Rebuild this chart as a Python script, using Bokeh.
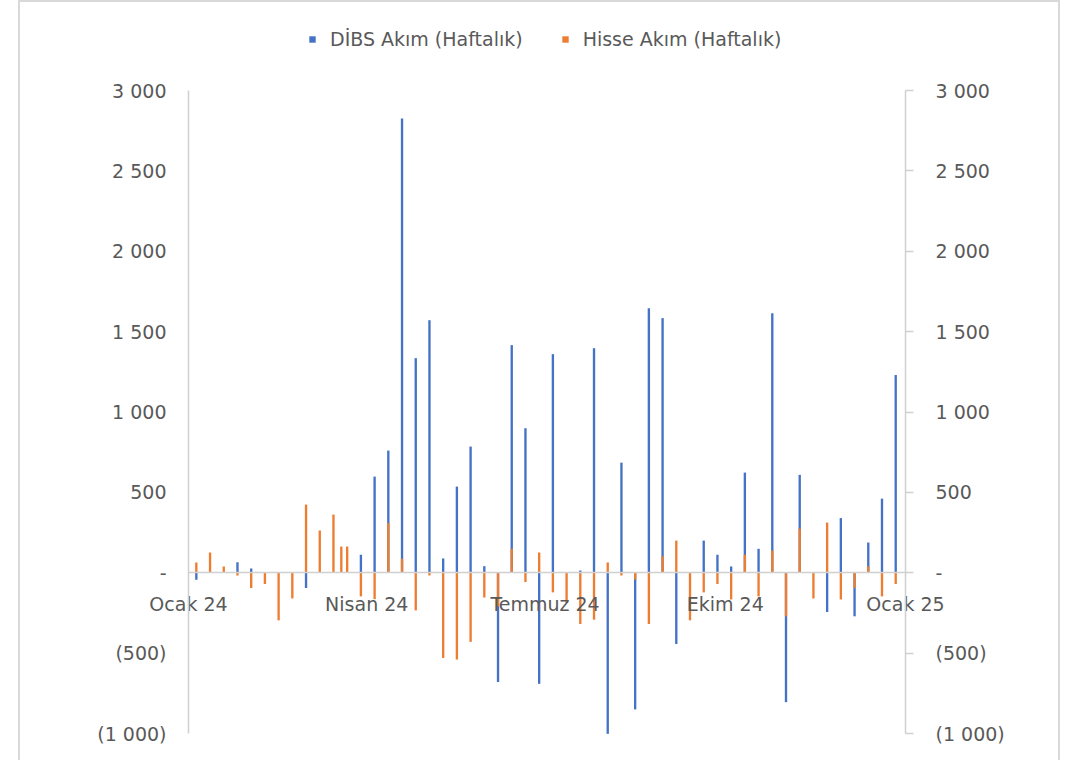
import pandas as pd
from bokeh.plotting import figure
from bokeh.models import (ColumnDataSource, LinearAxis, DatetimeAxis, FixedTicker,
                          CustomJSTickFormatter, Legend, LegendItem, Range1d)
from bokeh.embed import file_html
from bokeh.resources import INLINE

# ---- data (weekly flows) ----
dates = ["2024-01-05", "2024-01-12", "2024-01-19", "2024-01-26", "2024-02-02", "2024-02-09",
         "2024-02-16", "2024-02-23", "2024-03-01", "2024-03-08", "2024-03-15", "2024-03-19",
         "2024-03-22", "2024-03-29", "2024-04-05", "2024-04-12", "2024-04-19", "2024-04-26",
         "2024-05-03", "2024-05-10", "2024-05-17", "2024-05-24", "2024-05-31", "2024-06-07",
         "2024-06-14", "2024-06-21", "2024-06-28", "2024-07-05", "2024-07-12", "2024-07-19",
         "2024-07-26", "2024-08-02", "2024-08-09", "2024-08-16", "2024-08-23", "2024-08-30",
         "2024-09-06", "2024-09-13", "2024-09-20", "2024-09-27", "2024-10-04", "2024-10-11",
         "2024-10-18", "2024-10-25", "2024-11-01", "2024-11-08", "2024-11-15", "2024-11-22",
         "2024-11-29", "2024-12-06", "2024-12-13", "2024-12-20", "2024-12-27"]
dibs = [-43, 0, 0, 66, 27, 0,
        0, 0, -95, 0, 0, 0,
        0, 112, 598, 760, 2826, 1335,
        1571, 89, 536, 785, 41, -680,
        1416, 899, -691, 1360, 0, 14,
        1397, -1002, 685, -850, 1646, 1584,
        -443, 0, 200, 112, 39, 623,
        149, 1615, -805, 609, 0, -244,
        340, -271, 188, 461, 1230]
hisse = [64, 126, 39, -17, -95, -70,
         -296, -160, 424, 263, 362, 163,
         163, -147, -164, 309, 87, -234,
         -17, -530, -540, -430, -154, -209,
         149, -58, 126, -122, -188, -319,
         -292, 64, -17, -42, -319, 102,
         200, -296, -122, -70, -166, 112,
         -147, 138, -271, 275, -160, 312,
         -166, -95, 39, -147, -70]
series_names = ["DİBS Akım (Haftalık)", "Hisse Akım (Haftalık)"]
x_tick_dates = ["2024-01-01", "2024-04-01", "2024-07-01", "2024-10-01", "2025-01-01"]
month_names = ["Ocak", "Şubat", "Mart", "Nisan", "Mayıs", "Haziran", "Temmuz",
               "Ağustos", "Eylül", "Ekim", "Kasım", "Aralık"]
y_ticks = [-1000, -500, 0, 500, 1000, 1500, 2000, 2500, 3000]

# ---- styling / layout constants ----
BLUE = "#4472C4"
ORANGE = "#ED7D31"
TEXT = "#595959"
AXIS = "#d0d0d0"
FONT = "DejaVu Sans"
FS = "19px"

W, H = 1038, 758            # figure size (frame covers whole canvas)
PLOT_L, PLOT_R = 168, 885   # plot-area left/right in canvas px
PLOT_T, PLOT_B = 88, 731    # plot-area top/bottom in canvas px

df = pd.DataFrame({"date": pd.to_datetime(dates), "dibs": dibs, "hisse": hisse})
src = ColumnDataSource(df)

d0 = pd.Timestamp(x_tick_dates[0])
d1 = pd.Timestamp(x_tick_dates[-1])
span_ms = (d1 - d0).value / 1e6
ms_per_px = span_ms / (PLOT_R - PLOT_L)
x_lo = d0.value / 1e6 - PLOT_L * ms_per_px
x_hi = d1.value / 1e6 + (W - PLOT_R) * ms_per_px
y0, y1 = y_ticks[0], y_ticks[-1]
u_per_px = (y1 - y0) / (PLOT_B - PLOT_T)
y_lo = y0 - (H - PLOT_B) * u_per_px
y_hi = y1 + PLOT_T * u_per_px

p = figure(width=W, height=H, output_backend="svg", toolbar_location=None,
           x_axis_type=None, y_axis_type=None,
           x_range=Range1d(x_lo, x_hi), y_range=Range1d(y_lo, y_hi),
           min_border=0,
           styles={"margin-left": "20px", "margin-top": "2px",
                   "box-shadow": "0 0 0 2px #d9d9d9"})
p.outline_line_color = None
p.xgrid.visible = False
p.ygrid.visible = False
p.background_fill_color = "white"
p.border_fill_color = "white"

day_ms = 24 * 3600 * 1000
r_blue = p.vbar(x="date", top="dibs", bottom=0, width=1.2 * day_ms, source=src,
                fill_color=BLUE, line_color=None)
r_orange = p.vbar(x="date", top="hisse", bottom=0, width=1.2 * day_ms, source=src,
                  fill_color=ORANGE, line_color=None)

# y tick formatter: accounting style
yfmt = CustomJSTickFormatter(code="""
    if (tick == 0) { return "-"; }
    const a = Math.abs(tick);
    let s;
    if (a >= 1000) {
        s = Math.floor(a / 1000) + " " + String(a % 1000).padStart(3, "0");
    } else {
        s = String(a);
    }
    return tick < 0 ? "(" + s + ")" : s;
""")

def style_y(ax, tick_out, loc):
    ax.ticker = FixedTicker(ticks=y_ticks)
    ax.formatter = yfmt
    ax.bounds = (y0, y1)
    ax.fixed_location = loc
    ax.axis_line_color = AXIS
    ax.axis_line_width = 1.5
    ax.major_tick_line_color = AXIS
    ax.major_tick_line_width = 1.5
    ax.major_tick_out = tick_out
    ax.major_tick_in = 0
    ax.minor_tick_out = 0
    ax.minor_tick_in = 0
    ax.major_label_text_color = TEXT
    ax.major_label_text_font = FONT
    ax.major_label_text_font_size = FS
    ax.major_label_standoff = 22

yl = LinearAxis()
style_y(yl, 0, d0.value / 1e6)
p.add_layout(yl, "left")
yr = LinearAxis()
style_y(yr, 8, d1.value / 1e6)
p.add_layout(yr, "right")

xfmt = CustomJSTickFormatter(args=dict(names=month_names), code="""
    const d = new Date(tick);
    return names[d.getUTCMonth()] + " " + String(d.getUTCFullYear()).slice(2);
""")
xa = DatetimeAxis()
xa.ticker = FixedTicker(ticks=[pd.Timestamp(t).value // 10**6 for t in x_tick_dates])
xa.formatter = xfmt
xa.fixed_location = 0
xa.bounds = (d0.value / 1e6, d1.value / 1e6)
xa.axis_line_color = AXIS
xa.axis_line_width = 1.5
xa.major_tick_out = 0
xa.major_tick_in = 0
xa.minor_tick_out = 0
xa.minor_tick_in = 0
xa.major_label_text_color = TEXT
xa.major_label_text_font = FONT
xa.major_label_text_font_size = FS
xa.major_label_standoff = 20
p.add_layout(xa, "below")

legend = Legend(items=[LegendItem(label=series_names[0], renderers=[r_blue]),
                       LegendItem(label=series_names[1], renderers=[r_orange])],
                orientation="horizontal", location=(288, 710),
                glyph_width=8, glyph_height=8, label_standoff=14, spacing=38,
                label_text_color=TEXT, label_text_font=FONT, label_text_font_size=FS,
                border_line_color=None, background_fill_alpha=0, padding=0, margin=0)
p.add_layout(legend, "center")

open("out.html", "w").write(file_html(p, INLINE))
